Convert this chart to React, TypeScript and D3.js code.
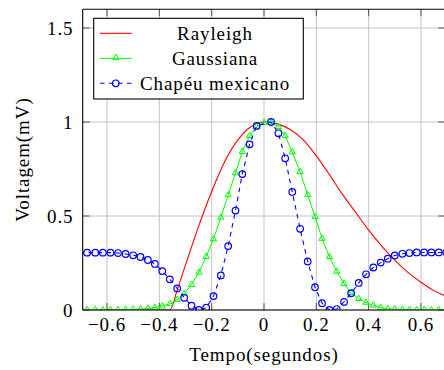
import React from "react";
import * as d3 from "d3";

const xTicks = [-0.6, -0.4, -0.2, 0, 0.2, 0.4, 0.6];
const yTicks = [0, 0.5, 1, 1.5];
const xTickLabels = ["\u22120.6", "\u22120.4", "\u22120.2", "0", "0.2", "0.4", "0.6"];
const yTickLabels = ["0", "0.5", "1", "1.5"];

const seriesNames = ["Rayleigh", "Gaussiana", "Chap\u00e9u mexicano"];

const rayleighX = [-0.72, -0.36, -0.33, -0.3, -0.25, -0.2, -0.15, -0.1, -0.05, 0, 0.05, 0.1, 0.15, 0.2, 0.25, 0.3, 0.35, 0.4, 0.45, 0.5, 0.55, 0.6, 0.65, 0.72];
const rayleighY = [0, 0, 0.115, 0.24, 0.445, 0.63, 0.79, 0.905, 0.975, 1.0, 0.99, 0.96, 0.905, 0.82, 0.72, 0.615, 0.52, 0.425, 0.34, 0.265, 0.2, 0.148, 0.103, 0.06];

const gaussX = [-0.705, -0.676, -0.645, -0.616, -0.587, -0.558, -0.529, -0.5, -0.472, -0.444, -0.417, -0.389, -0.36, -0.332, -0.305, -0.277, -0.249, -0.221, -0.193, -0.165, -0.137, -0.109, -0.083, -0.055, -0.028, 0.0, 0.027, 0.055, 0.081, 0.108, 0.138, 0.167, 0.195, 0.222, 0.25, 0.278, 0.306, 0.333, 0.362, 0.39, 0.418, 0.446, 0.473, 0.5, 0.529, 0.556, 0.584, 0.612, 0.64, 0.668, 0.697];
const gaussY = [0, 0, 0, 0, 0, 0.001, 0.002, 0.003, 0.005, 0.008, 0.013, 0.02, 0.033, 0.055, 0.087, 0.135, 0.2, 0.284, 0.378, 0.493, 0.612, 0.729, 0.842, 0.927, 0.975, 0.997, 0.998, 0.975, 0.927, 0.84, 0.735, 0.612, 0.496, 0.38, 0.283, 0.205, 0.14, 0.09, 0.06, 0.04, 0.025, 0.013, 0.007, 0.004, 0.002, 0.001, 0, 0, 0, 0, 0];

const hatX = [-0.705, -0.676, -0.645, -0.616, -0.587, -0.558, -0.529, -0.5, -0.472, -0.444, -0.417, -0.389, -0.36, -0.332, -0.305, -0.277, -0.249, -0.221, -0.193, -0.165, -0.137, -0.109, -0.083, -0.055, -0.028, 0.027, 0.055, 0.081, 0.108, 0.138, 0.167, 0.195, 0.222, 0.25, 0.278, 0.306, 0.333, 0.362, 0.39, 0.418, 0.446, 0.473, 0.5, 0.529, 0.556, 0.584, 0.612, 0.64, 0.668, 0.697];
const hatY = [0.306, 0.305, 0.305, 0.305, 0.305, 0.303, 0.298, 0.291, 0.282, 0.266, 0.245, 0.207, 0.163, 0.115, 0.065, 0.023, 0.0, 0.012, 0.074, 0.184, 0.34, 0.529, 0.723, 0.881, 0.979, 1.0, 0.94, 0.807, 0.628, 0.432, 0.258, 0.121, 0.036, 0.0, 0.005, 0.043, 0.089, 0.144, 0.19, 0.226, 0.252, 0.273, 0.29, 0.299, 0.303, 0.306, 0.306, 0.306, 0.306, 0.306];

const W = 444;
const H = 370;
const L = 82.7;
const R = 445.3;
const T = 9.2;
const B = 310;
const FONT = "'Liberation Serif', 'Times New Roman', serif";

const RED = "#ff0000";
const GREEN = "#00ff00";
const BLUE = "#0000ff";

function tri(cx: number, cy: number, r: number) {
  return `M${cx},${cy - r}L${cx + 0.866 * r},${cy + 0.5 * r}L${cx - 0.866 * r},${cy + 0.5 * r}Z`;
}

export default function App() {
  const x = d3.scaleLinear().domain([-0.693, 0.693]).range([L, R]);
  const y = d3.scaleLinear().domain([0, 1.6]).range([B, T]);

  const redPts: [number, number][] = rayleighX.map((v, i) => [v, rayleighY[i]]);
  const greenPts: [number, number][] = gaussX.map((v, i) => [v, gaussY[i]]);
  const bluePts: [number, number][] = hatX.map((v, i) => [v, hatY[i]]);

  const smooth = d3
    .line<[number, number]>()
    .x((d) => x(d[0]))
    .y((d) => y(d[1]))
    .curve(d3.curveMonotoneX);
  const straight = d3
    .line<[number, number]>()
    .x((d) => x(d[0]))
    .y((d) => y(d[1]));

  const tickLen = 7;
  const legX = 93.7;
  const legY = 18.3;
  const legW = 209.6;
  const legH = 80.7;
  const rowY = [33.3, 58.3, 83.3];
  const textStyle: React.CSSProperties = { fontFamily: FONT, fontSize: 19, letterSpacing: 0.9 };

  return (
    <svg
      width={W}
      height={H}
      style={{ position: "absolute", left: 0, top: 0, background: "#fff" }}
    >
      <defs>
        <clipPath id="plotclip">
          <rect x={L} y={T} width={R - L} height={B - T} />
        </clipPath>
      </defs>
      <rect x={0} y={0} width={W} height={H} fill="#fff" />

      {/* grid */}
      <g stroke="#c4c4c4" strokeWidth={1}>
        {xTicks.map((t) => (
          <line key={"gx" + t} x1={x(t)} x2={x(t)} y1={T} y2={B} />
        ))}
        {yTicks.map((t) => (
          <line key={"gy" + t} x1={L} x2={R} y1={y(t)} y2={y(t)} />
        ))}
      </g>

      {/* ticks */}
      <g stroke="#555" strokeWidth={1}>
        {xTicks.map((t) => (
          <g key={"tx" + t}>
            <line x1={x(t)} x2={x(t)} y1={B} y2={B - tickLen} />
            <line x1={x(t)} x2={x(t)} y1={T} y2={T + tickLen} />
          </g>
        ))}
        {yTicks.map((t) => (
          <g key={"ty" + t}>
            <line x1={L} x2={L + tickLen} y1={y(t)} y2={y(t)} />
            <line x1={R} x2={R - tickLen} y1={y(t)} y2={y(t)} />
          </g>
        ))}
      </g>

      {/* data */}
      <g clipPath="url(#plotclip)">
        <path d={smooth(redPts) || ""} fill="none" stroke={RED} strokeWidth={1.1} />
        <path d={straight(greenPts) || ""} fill="none" stroke={GREEN} strokeWidth={1} />
        {greenPts.map((d, i) => (
          <path key={"g" + i} d={tri(x(d[0]), y(d[1]), 3.6)} fill="none" stroke={GREEN} strokeWidth={1} />
        ))}
        <path d={straight(bluePts) || ""} fill="none" stroke={BLUE} strokeWidth={1.1} strokeDasharray="4.5,4.5" />
        {bluePts.map((d, i) => (
          <circle key={"b" + i} cx={x(d[0])} cy={y(d[1])} r={3.3} fill="none" stroke={BLUE} strokeWidth={1.2} />
        ))}
      </g>

      {/* frame */}
      <g stroke="#000" strokeWidth={1.1} fill="none">
        <line x1={L} x2={L} y1={T} y2={B} />
        <line x1={L} x2={R} y1={T} y2={T} />
        <line x1={L} x2={R} y1={B} y2={B} />
        <line x1={R} x2={R} y1={T} y2={B} />
      </g>

      {/* tick labels */}
      {xTicks.map((t, i) => (
        <text key={"lx" + t} x={x(t)} y={331} textAnchor="middle" style={textStyle}>
          {xTickLabels[i]}
        </text>
      ))}
      {yTicks.map((t, i) => (
        <text key={"ly" + t} x={73.5} y={y(t) + 6.5} textAnchor="end" style={textStyle}>
          {yTickLabels[i]}
        </text>
      ))}

      {/* axis titles */}
      <text x={264} y={361} textAnchor="middle" style={textStyle}>
        Tempo(segundos)
      </text>
      <text
        transform={`translate(29,${(T + B) / 2}) rotate(-90)`}
        textAnchor="middle"
        style={textStyle}
      >
        Voltagem(mV)
      </text>

      {/* legend */}
      <rect x={legX} y={legY} width={legW} height={legH} fill="#fff" stroke="#000" strokeWidth={1.1} />
      <line x1={100} x2={131.7} y1={rowY[0]} y2={rowY[0]} stroke={RED} strokeWidth={1.1} />
      <line x1={100} x2={131.7} y1={rowY[1]} y2={rowY[1]} stroke={GREEN} strokeWidth={1} />
      <path d={tri(115.8, rowY[1] - 0.5, 3.6)} fill="none" stroke={GREEN} strokeWidth={1} />
      <line x1={100} x2={131.7} y1={rowY[2]} y2={rowY[2]} stroke={BLUE} strokeWidth={1.1} strokeDasharray="4.5,4.5" />
      <circle cx={115.8} cy={rowY[2]} r={3.3} fill="none" stroke={BLUE} strokeWidth={1.2} />
      {seriesNames.map((n, i) => (
        <text key={n} x={215} y={rowY[i] + 6.5} textAnchor="middle" style={textStyle}>
          {n}
        </text>
      ))}
    </svg>
  );
}
